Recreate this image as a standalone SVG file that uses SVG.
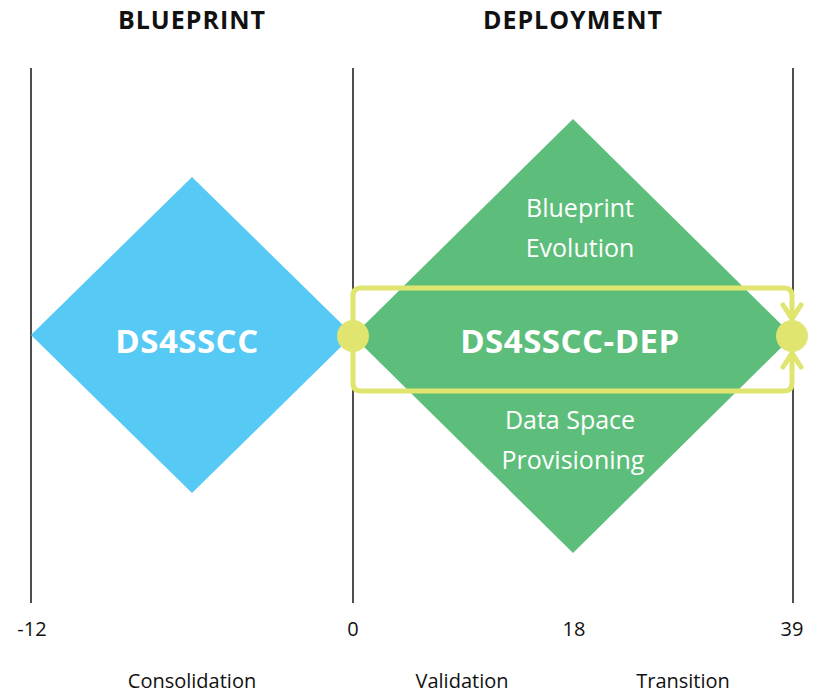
<svg xmlns="http://www.w3.org/2000/svg" width="813" height="697" viewBox="0 0 813 697">
<defs>
<style>
.axis{stroke:#222;stroke-width:1.6;fill:none}
.hdr{font-family:"Open Sans","Liberation Sans",sans-serif;font-weight:700;font-size:25px;letter-spacing:1px;fill:#111;text-anchor:middle}
.tick{font-family:"Open Sans","Liberation Sans",sans-serif;font-size:20px;fill:#111;text-anchor:middle}
.phase{font-family:"Open Sans","Liberation Sans",sans-serif;font-size:20px;fill:#111;text-anchor:middle}
.big{font-family:"Open Sans","Liberation Sans",sans-serif;font-weight:700;font-size:33px;letter-spacing:0.5px;fill:#fff;text-anchor:middle}
.sub{font-family:"Open Sans","Liberation Sans",sans-serif;font-size:25px;fill:#fff;text-anchor:middle}
.loop{stroke:#DFE56E;stroke-width:5;fill:none;stroke-linecap:round;stroke-linejoin:round}
.dot{fill:#DFE56E}
</style>
<marker id="chev" markerUnits="userSpaceOnUse" markerWidth="40" markerHeight="40" viewBox="-20 -20 40 40" refX="0" refY="0" orient="auto-start-reverse" overflow="visible">
<path d="M -14 -9 L 0 0 L -14 9" stroke="#DFE56E" stroke-width="5" fill="none" stroke-linecap="round" stroke-linejoin="round"/>
</marker>
</defs>
<rect width="813" height="697" fill="#fff"/>
<g id="headers">
<text class="hdr" x="192" y="29">BLUEPRINT</text>
<text class="hdr" x="573" y="29">DEPLOYMENT</text>
</g>
<g id="axes">
<line class="axis" x1="31" y1="68" x2="31" y2="603"/>
<line class="axis" x1="353" y1="68" x2="353" y2="603"/>
<line class="axis" x1="793" y1="68" x2="793" y2="603"/>
</g>
<g id="ds4sscc">
<polygon points="31,335 192,177 353,335 192,493" fill="#56C9F4"/>
<text class="big" x="187" y="353">DS4SSCC</text>
</g>
<g id="ds4sscc-dep">
<polygon points="573,119 793,336 573,553 353,336" fill="#5DBE7B"/>
<text class="sub" x="580" y="217">Blueprint</text>
<text class="sub" x="580" y="257">Evolution</text>
<text class="big" x="570" y="353">DS4SSCC-DEP</text>
<text class="sub" x="570" y="429">Data Space</text>
<text class="sub" x="573" y="469">Provisioning</text>
</g>
<g id="connectors">
<path class="loop" d="M 792 319 V 296 Q 792 288 784 288 H 361 Q 353 288 353 296 V 383 Q 353 391 361 391 H 784 Q 792 391 792 383 V 353" marker-start="url(#chev)" marker-end="url(#chev)"/>
</g>
<g id="milestones">
<circle class="dot" cx="353" cy="336" r="16"/>
<circle class="dot" cx="792" cy="336" r="16"/>
</g>
<g id="ticks">
<text class="tick" x="32" y="636">-12</text>
<text class="tick" x="353" y="636">0</text>
<text class="tick" x="574" y="636">18</text>
<text class="tick" x="792" y="636">39</text>
</g>
<g id="phases">
<text class="phase" x="192" y="688">Consolidation</text>
<text class="phase" x="462" y="688">Validation</text>
<text class="phase" x="683" y="688">Transition</text>
</g>
</svg>
